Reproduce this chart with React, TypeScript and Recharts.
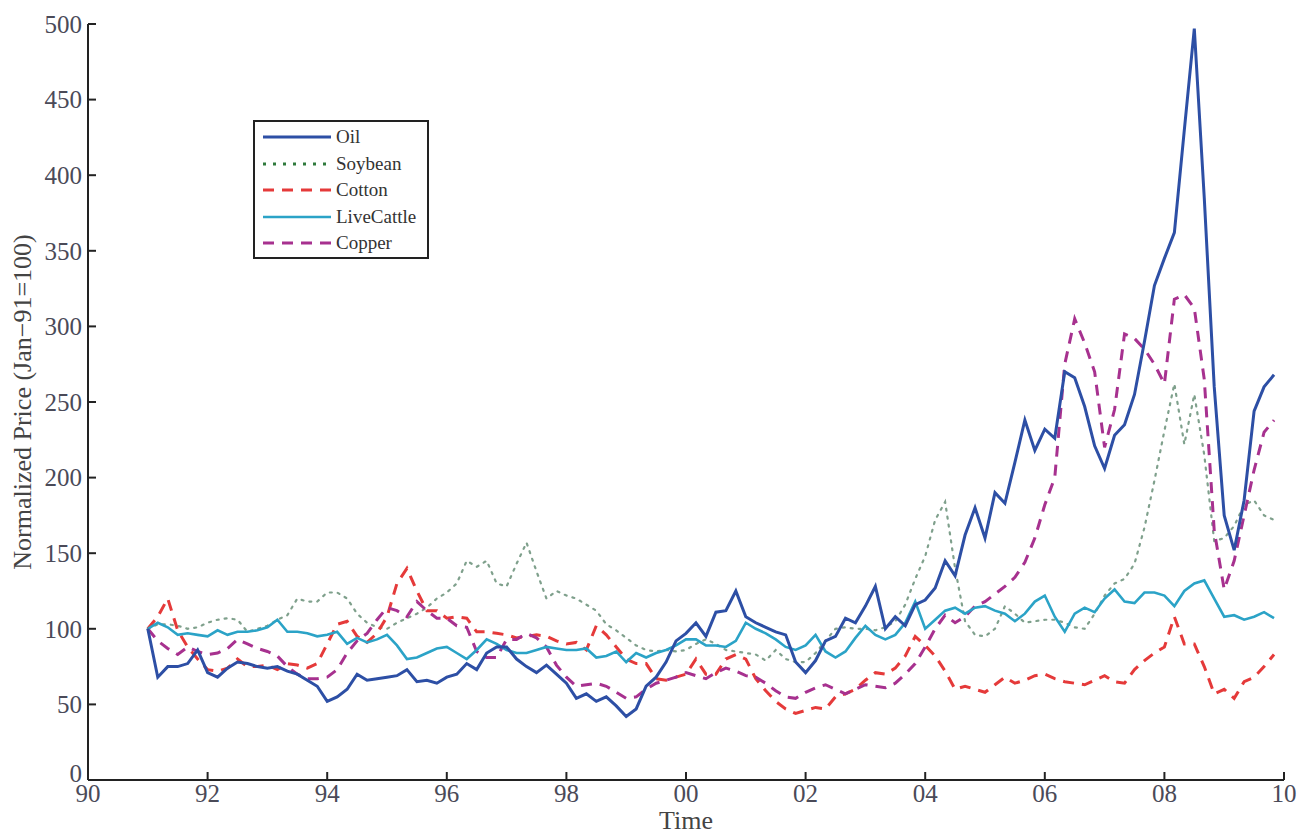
import React from 'react'
import { LineChart, Line, XAxis, YAxis } from 'recharts'

// normalized prices (Jan-91 = 100), sampled every two months from Jan-91
const oil = [
  100, 68, 75, 75, 77, 86, 71, 68, 74, 78,
  77, 75, 74, 75, 72, 70, 66, 62, 52, 55,
  60, 70, 66, 67, 68, 69, 73, 65, 66, 64,
  68, 70, 77, 73, 84, 88, 88, 80, 75, 71,
  76, 70, 64, 54, 57, 52, 55, 49, 42, 47,
  62, 68, 78, 92, 97, 104, 95, 111, 112, 125,
  108, 104, 101, 98, 96, 78, 71, 79, 92, 95,
  107, 104, 115, 128, 100, 108, 102, 116, 119, 127,
  145, 135, 162, 180, 160, 190, 183, 210, 238, 218,
  232, 226, 270, 266, 247, 221, 206, 228, 235, 255,
  290, 327, 345, 362, 430, 497, 385, 260, 175, 152,
  185, 244, 260, 268,
]
const soybean = [
  100, 103, 103, 102, 100, 101, 104, 106, 107, 106,
  98, 100, 102, 106, 109, 120, 118, 118, 124, 124,
  120, 110, 104, 101, 100, 104, 107, 110, 114, 120,
  124, 130, 145, 141, 145, 130, 128, 143, 157, 138,
  120, 125, 122, 120, 116, 112, 103, 99, 94, 89,
  86, 85, 86, 85, 86, 90, 93, 90, 86, 85,
  84, 83, 79, 86, 80, 78, 78, 84, 92, 100,
  101, 100, 100, 99, 101, 105, 116, 133, 148, 172,
  184, 140, 105, 96, 95, 100, 115, 110, 104, 105,
  106, 106, 104, 101, 100, 110, 122, 130, 133, 143,
  167, 198, 231, 262, 222, 255, 215, 158, 160, 168,
  182, 185, 175, 172,
]
const cotton = [
  100, 108, 120, 99, 88, 80, 73, 72, 74, 80,
  75, 75, 76, 73, 77, 76, 74, 77, 90, 103,
  105, 95, 91, 97, 108, 130, 140, 125, 112, 112,
  107, 108, 107, 98, 98, 97, 96, 94, 95, 96,
  95, 92, 90, 91, 86, 102, 96, 88, 80, 77,
  77, 67, 66, 68, 70, 80, 70, 70, 80, 83,
  80, 67, 59, 52, 47, 44, 46, 48, 47, 55,
  57, 60, 66, 71, 70, 74, 82, 95, 89, 82,
  72, 60, 62, 60, 58, 63, 68, 64, 66, 69,
  70, 67, 65, 64, 63, 66, 69, 65, 64, 73,
  79, 84, 88, 108, 90, 90, 75, 57, 60, 54,
  65, 68, 75, 83,
]
const liveCattle = [
  100, 104, 101, 96, 97, 96, 95, 99, 96, 98,
  98, 99, 101, 106, 98, 98, 97, 95, 96, 98,
  90, 94, 91, 93, 96, 89, 80, 81, 84, 87,
  88, 84, 80, 86, 93, 90, 86, 84, 84, 86,
  88, 87, 86, 86, 87, 81, 82, 85, 78, 84,
  81, 84, 86, 89, 93, 93, 89, 89, 88, 92,
  104, 100, 97, 93, 88, 86, 89, 96, 85, 81,
  85, 94, 102, 96, 93, 96, 104, 118, 100, 106,
  112, 114, 110, 114, 115, 112, 110, 105, 110, 118,
  122, 108, 98, 110, 114, 111, 120, 126, 118, 117,
  124, 124, 122, 115, 125, 130, 132, 120, 108, 109,
  106, 108, 111, 107,
]
const copper = [
  100, 92, 87, 83, 88, 85, 83, 84, 87, 93,
  90, 87, 85, 82, 75, 70, 67, 67, 68, 73,
  84, 92, 97, 106, 114, 112, 108, 118, 112, 107,
  107, 102, 101, 85, 81, 81, 93, 93, 97, 94,
  88, 76, 68, 62, 63, 64, 62, 58, 54, 55,
  60, 64, 66, 68, 71, 69, 67, 71, 74, 72,
  69, 68, 64, 59, 55, 54, 58, 61, 63, 60,
  57, 60, 63, 62, 61, 64, 70, 77, 88, 100,
  109, 104, 108, 115, 118, 123, 128, 134, 144, 160,
  182, 200, 275, 305, 289, 270, 220, 245, 295, 292,
  285, 275, 262, 318, 321, 312, 265, 165, 126, 145,
  175, 205, 230, 238,
]

// years since 1990
const xTicks = [0, 2, 4, 6, 8, 10, 12, 14, 16, 18, 20]
const yTicks = [0, 50, 100, 150, 200, 250, 300, 350, 400, 450, 500]

const time = oil.map((_, i) => 1 + i / 6)
const data = time.map((t, i) => ({
  t,
  oil: oil[i],
  soybean: soybean[i],
  cotton: cotton[i],
  liveCattle: liveCattle[i],
  copper: copper[i],
}))

const series = [
  { key: 'oil', name: 'Oil', color: '#2d4fa5', width: 3, dash: undefined },
  { key: 'soybean', name: 'Soybean', color: '#7fa08c', width: 2.2, dash: '2 6' },
  { key: 'cotton', name: 'Cotton', color: '#e53a3a', width: 3, dash: '11 8' },
  { key: 'liveCattle', name: 'LiveCattle', color: '#2ba3c7', width: 2.6, dash: undefined },
  { key: 'copper', name: 'Copper', color: '#a7318f', width: 3, dash: '11 8' },
]
const legendColor: Record<string, string> = { soybean: '#2f7a3c' }
const drawOrder = ['soybean', 'cotton', 'copper', 'liveCattle', 'oil']

const font = '"Liberation Serif", "Times New Roman", serif'
const axisColor = '#222'
const tickStyle = { fontFamily: font, fontSize: 25, fill: '#4a4a58' }

const yearLabel = (v: number) => String((90 + v) % 100).padStart(2, '0')

// y tick: the "0" sits a little higher so it clears the "90" below it
function PriceTick(props: any) {
  const { x, y, payload } = props
  const lift = payload.value === 0 ? -7 : 0
  return (
    <text x={x} y={y + lift} dy="0.355em" textAnchor="end" {...tickStyle}>
      {payload.value}
    </text>
  )
}

function LegendBox() {
  return (
    <div
      style={{
        position: 'absolute',
        left: 245,
        top: 112,
        width: 172,
        height: 135,
        border: `2px solid ${axisColor}`,
        background: '#fff',
        fontFamily: font,
        fontSize: 19,
        color: '#333',
      }}
    >
      {series.map((s, i) => (
        <div
          key={s.key}
          style={{ position: 'absolute', left: 8, top: 3 + i * 26.5, height: 24, display: 'flex', alignItems: 'center' }}
        >
          <svg width={70} height={10}>
            <line
              x1={0}
              y1={5}
              x2={68}
              y2={5}
              stroke={legendColor[s.key] ?? s.color}
              strokeWidth={s.key === 'soybean' ? 3 : s.width}
              strokeDasharray={s.dash === '2 6' ? '3 7' : s.dash}
            />
          </svg>
          <span style={{ marginLeft: 3 }}>{s.name}</span>
        </div>
      ))}
    </div>
  )
}

export default function App() {
  return (
    <div style={{ position: 'relative', width: 1295, height: 827 }}>
      <LineChart width={1295} height={827} data={data} margin={{ top: 16, right: 19, bottom: 2, left: 0 }}>
        <XAxis
          xAxisId="top"
          orientation="top"
          type="number"
          dataKey="t"
          domain={[0, 20]}
          ticks={xTicks}
          height={0}
          tick={false}
          tickSize={-8}
          stroke={axisColor}
          strokeWidth={2}
        />
        <XAxis
          type="number"
          dataKey="t"
          domain={[0, 20]}
          ticks={xTicks}
          height={53}
          tickSize={-8}
          tickMargin={12}
          tickFormatter={yearLabel}
          tick={tickStyle}
          stroke={axisColor}
          strokeWidth={2}
          label={{ value: 'Time', position: 'insideBottom', offset: 4, style: { fontFamily: font, fontSize: 26, fill: '#444' } }}
        />
        <YAxis
          yAxisId="right"
          orientation="right"
          domain={[0, 500]}
          ticks={yTicks}
          width={0}
          tick={false}
          tickSize={-8}
          stroke={axisColor}
          strokeWidth={2}
        />
        <YAxis
          domain={[0, 500]}
          ticks={yTicks}
          width={80}
          tickSize={-8}
          tickMargin={14}
          tick={<PriceTick />}
          stroke={axisColor}
          strokeWidth={2}
          label={{
            value: 'Normalized Price (Jan\u221291=100)',
            angle: -90,
            position: 'insideLeft',
            offset: 14,
            style: { textAnchor: 'middle', fontFamily: font, fontSize: 26, fill: '#444' },
          }}
        />
        {drawOrder.map((k) => {
          const s = series.find((x) => x.key === k)!
          return (
            <Line
              key={s.key}
              type="linear"
              dataKey={s.key}
              name={s.name}
              stroke={s.color}
              strokeWidth={s.width}
              strokeDasharray={s.dash}
              strokeLinecap={s.dash === '2 6' ? 'round' : 'butt'}
              dot={false}
              isAnimationActive={false}
            />
          )
        })}
      </LineChart>
      <LegendBox />
    </div>
  )
}
